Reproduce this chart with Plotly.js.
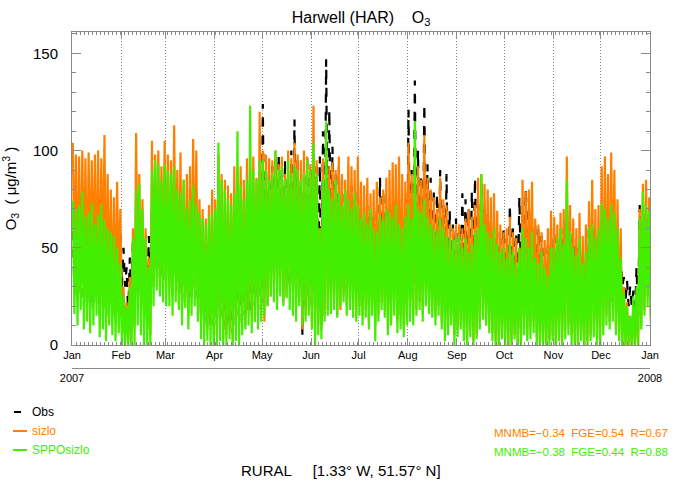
<!DOCTYPE html>
<html>
<head>
<meta charset="utf-8">
<script src="https://cdn.plot.ly/plotly-3.0.1.min.js"></script>
<style>html,body{margin:0;padding:0;background:#fff;}#chart{width:675px;height:484px;}</style>
</head>
<body>
<div id="chart"></div>
<script>
// Two-day periods starting 2007-01-01: daily high / low
const monthTicks = ['2007-01-01','2007-02-01','2007-03-01','2007-04-01','2007-05-01','2007-06-01','2007-07-01','2007-08-01','2007-09-01','2007-10-01','2007-11-01','2007-12-01','2008-01-01'];
const monthLabels = ['Jan','Feb','Mar','Apr','May','Jun','Jul','Aug','Sep','Oct','Nov','Dec','Jan'];

const sizloHigh = [
 104,98,97,100,96,99,95,98,100,96,108,88,80,76,84,70,
 30,22,35,60,109,88,75,60,45,105,98,100,92,105,
 98,95,113,90,99,85,88,92,106,100,75,70,65,72,80,
 75,98,88,85,82,78,92,90,92,85,96,90,97,86,120,
 100,98,96,95,100,93,97,88,100,96,104,98,95,100,97,93,
 123,95,60,96,100,92,94,90,97,88,85,97,92,90,97,
 84,82,86,78,80,84,76,80,86,90,94,93,97,88,84,
 104,88,95,92,85,108,86,80,76,70,86,75,72,62,60,62,
 62,60,65,70,66,72,86,88,83,80,76,78,69,62,58,
 60,66,58,55,50,85,79,80,84,65,62,58,54,60,69,
 66,62,68,70,97,72,65,60,68,56,62,74,85,70,72,
 92,97,88,99,90,75,60,30,22,15,18,25,70,83,85,76];
const sizloLow = [
 42,30,26,36,22,32,35,25,22,30,15,22,14,18,24,12,
 5,2,0,10,30,25,20,8,5,30,35,30,28,32,
 30,25,35,20,18,22,15,25,28,20,12,10,8,12,5,
 5,10,3,5,8,2,10,12,15,10,18,14,12,16,20,
 12,20,25,30,28,30,22,25,30,28,20,22,8,15,18,10,
 5,10,8,15,18,20,22,15,18,25,20,24,18,15,20,
 15,18,12,20,10,16,22,18,8,14,20,12,15,10,12,
 20,15,18,22,16,25,20,18,15,20,12,8,10,15,5,8,
 10,5,0,8,2,5,12,15,10,12,6,2,0,5,0,
 0,2,5,0,3,8,5,10,12,4,0,2,0,3,5,
 0,5,2,8,10,5,2,0,3,0,2,5,8,3,0,
 10,15,12,20,8,5,0,0,0,0,0,0,10,18,25,15];
const spposizloHigh = [
 74,70,72,79,66,68,73,62,67,72,64,60,58,56,50,42,
 25,20,30,55,80,83,70,55,40,90,95,93,85,93,
 90,88,92,80,78,85,70,75,82,72,68,65,62,66,68,
 70,104,85,80,75,72,78,110,82,75,85,123,90,85,95,
 95,90,85,88,100,90,92,85,95,88,92,90,85,88,95,90,
 104,88,60,85,115,80,75,85,78,72,80,75,70,78,72,
 65,68,62,70,60,58,66,64,70,68,65,72,62,60,66,
 72,65,115,70,68,75,66,62,60,58,65,60,56,55,54,55,
 56,50,55,48,52,58,60,88,62,58,55,60,52,48,50,
 45,52,48,42,50,60,55,50,58,45,42,48,40,36,50,
 50,55,60,52,85,58,50,46,55,42,48,60,62,55,60,
 73,70,65,72,68,60,45,27,20,15,25,30,65,79,72,69];
const spposizloLow = [
 16,10,18,8,12,6,10,15,4,8,2,10,5,2,6,0,
 0,0,0,0,10,5,0,0,0,20,28,25,22,20,
 20,15,22,18,10,19,8,15,20,12,3,0,2,0,0,
 0,2,0,0,3,0,2,0,5,8,10,6,12,8,12,
 15,20,25,22,18,25,20,24,18,15,12,20,10,12,15,8,
 0,5,3,12,15,16,18,14,20,22,15,18,14,12,15,
 10,14,8,15,2,12,18,14,5,10,15,6,8,4,10,
 12,10,15,18,12,20,16,14,10,15,8,2,5,10,0,4,
 8,2,0,4,0,3,8,13,10,6,2,0,0,3,0,
 0,0,3,0,0,5,2,3,6,0,0,0,0,0,2,
 0,2,0,3,5,0,0,0,2,0,0,2,4,0,0,
 5,10,8,12,5,2,0,0,0,0,0,0,8,15,20,12];
const obsHigh = [
 68,62,66,70,58,60,64,56,58,60,58,54,50,52,56,57,
 50,40,45,55,60,58,52,50,56,70,75,72,70,82,
 78,70,75,65,62,68,58,62,70,60,55,50,50,52,55,
 55,70,62,58,55,52,60,72,65,60,68,80,75,70,85,
 124,90,88,92,96,98,90,95,85,100,116,95,85,90,98,92,
 100,92,97,110,147,121,102,88,92,85,80,78,82,75,80,
 70,65,72,68,66,70,86,80,72,68,70,74,70,65,75,
 121,90,136,100,86,124,93,86,80,78,90,72,88,69,62,65,
 62,78,75,70,79,86,72,84,70,68,65,62,58,55,60,
 55,72,60,58,76,70,80,76,65,62,60,56,50,52,60,
 58,55,52,60,68,62,55,50,48,45,40,65,60,55,50,
 60,65,62,58,55,49,45,35,33,30,28,40,72,70,65,52];
const obsLow = [
 26,22,26,20,22,18,22,26,16,20,14,22,18,30,38,30,
 30,15,25,35,30,28,20,22,37,40,40,35,32,45,
 35,30,35,28,22,28,20,25,30,22,15,12,12,10,10,
 10,12,8,8,10,6,10,10,15,15,18,15,20,18,22,
 30,35,40,38,35,40,35,40,30,30,25,28,5,20,25,18,
 20,25,10,40,45,40,35,30,32,30,28,30,28,25,30,
 30,32,28,35,25,30,38,34,25,28,30,26,28,22,25,
 35,30,38,40,32,42,38,30,28,30,25,20,25,22,18,20,
 30,35,32,30,35,40,30,38,28,26,25,22,20,18,22,
 20,30,25,22,35,28,30,32,25,21,22,20,18,15,20,
 30,25,22,28,30,35,40,30,25,33,20,21,25,22,20,
 25,28,25,22,30,31,30,22,20,20,15,15,30,35,40,34];

const DAY = 86400000;
const T0 = Date.UTC(2007,0,1);
function fmt(ms){ return new Date(ms).toISOString().slice(0,19).replace('T',' '); }
function zigzag(hi, lo){
  const x=[], y=[];
  for(let i=0;i<hi.length;i++){
    x.push(fmt(T0 + (2*i+0.5)*DAY)); y.push(hi[i]);
    x.push(fmt(T0 + (2*i+1.5)*DAY)); y.push(lo[i]);
  }
  return {x, y};
}
const obsZ = zigzag(obsHigh, obsLow);
const sizZ = zigzag(sizloHigh, sizloLow);
const sppZ = zigzag(spposizloHigh, spposizloLow);

const ORANGE = '#ff8000', GREEN = '#44ee00';
const traces = [
  {x: obsZ.x, y: obsZ.y, type:'scatter', mode:'lines', name:'Obs',
   line:{color:'#000', width:2.2, dash:'dash'}, hoverinfo:'skip'},
  {x: sizZ.x, y: sizZ.y, type:'scatter', mode:'lines', name:'sizlo',
   line:{color:ORANGE, width:2.2}, hoverinfo:'skip'},
  {x: sppZ.x, y: sppZ.y, type:'scatter', mode:'lines', name:'SPPOsizlo',
   line:{color:GREEN, width:2.2}, hoverinfo:'skip'},
  {x:['2007-06-01'], y:[null], xaxis:'x2', type:'scatter', mode:'lines', showlegend:false, hoverinfo:'skip'}
];

// layout geometry (pixels)
const L=72, R=25, T=32, B=116, W=675, H=484;
const PW = W-L-R, PH = H-T-B;
function px(x){ return (x-L)/PW; }
function py(y){ return (H-B-y)/PH; }

const FONT = 'Liberation Sans, Arial, sans-serif';
const AXC = '#8a8a8a';
const layout = {
  width:W, height:H,
  margin:{l:L, r:R, t:T, b:B, pad:0},
  paper_bgcolor:'#fff', plot_bgcolor:'#fff',
  showlegend:false,
  font:{family:FONT, color:'#000'},
  title:{text:'Harwell (HAR)\u00A0\u00A0\u00A0\u00A0O<sub>3</sub>', font:{size:16, family:FONT, color:'#000'},
         x:0.535, xanchor:'center', y:1-17/H, yanchor:'middle', yref:'container'},
  xaxis:{type:'date', range:['2007-01-01','2008-01-01'], anchor:'y',
         tickvals:monthTicks, ticktext:monthLabels, tickfont:{size:11, family:FONT, color:'#000'},
         ticks:'inside', ticklen:6, tickcolor:AXC, showline:true, linecolor:AXC, linewidth:1,
         mirror:'ticks', showgrid:true, gridcolor:'#888', griddash:'1px,2px', gridwidth:1, zeroline:false,
         minor:{dtick:2.5*DAY, ticks:'inside', ticklen:3, tickcolor:AXC, showgrid:false}},
  yaxis:{range:[0,161], domain:[23/PH,1], tickvals:[0,50,100,150], tickfont:{size:15, family:FONT, color:'#000'},
         ticks:'inside', ticklen:9, tickcolor:AXC, showline:true, linecolor:AXC, linewidth:1,
         mirror:'ticks', showgrid:false, zeroline:false, ticklabelstandoff:10,
         minor:{dtick:10, ticks:'inside', ticklen:4, tickcolor:AXC, showgrid:false},
         title:{text:'O<sub>3</sub>\u00A0\u00A0(\u00A0\u03BCg/m<sup>3</sup>\u00A0)', font:{size:15, family:FONT, color:'#000'}, standoff:14}},
  xaxis2:{type:'date', range:['2007-01-01','2008-01-01'], overlaying:'x', anchor:'free', position:0,
          tickvals:['2007-01-01','2008-01-01'], ticktext:['2007','2008'], tickfont:{size:11, family:FONT, color:'#000'},
          ticks:'inside', ticklen:6, tickcolor:AXC, showline:true, linecolor:AXC, linewidth:1,
          showgrid:false, zeroline:false},
  shapes:[
    {type:'line', xref:'paper', yref:'paper', x0:px(14), x1:px(21), y0:py(412), y1:py(412), line:{color:'#000', width:2}},
    {type:'line', xref:'paper', yref:'paper', x0:px(13), x1:px(27), y0:py(431), y1:py(431), line:{color:ORANGE, width:2}},
    {type:'line', xref:'paper', yref:'paper', x0:px(13), x1:px(27), y0:py(450), y1:py(450), line:{color:GREEN, width:2}}
  ],
  annotations:[
    {xref:'paper', yref:'paper', x:px(30), y:py(412), xanchor:'left', yanchor:'middle', showarrow:false,
     text:'Obs', font:{size:12, family:FONT, color:'#000'}},
    {xref:'paper', yref:'paper', x:px(30), y:py(431), xanchor:'left', yanchor:'middle', showarrow:false,
     text:'sizlo', font:{size:12, family:FONT, color:ORANGE}},
    {xref:'paper', yref:'paper', x:px(30), y:py(450), xanchor:'left', yanchor:'middle', showarrow:false,
     text:'SPPOsizlo', font:{size:12, family:FONT, color:GREEN}},
    {xref:'paper', yref:'paper', x:px(670), y:py(433), xanchor:'right', yanchor:'middle', showarrow:false,
     text:'MNMB=\u22120.34\u00A0\u00A0FGE=0.54\u00A0\u00A0R=0.67', font:{size:11.5, family:FONT, color:ORANGE}},
    {xref:'paper', yref:'paper', x:px(670), y:py(452), xanchor:'right', yanchor:'middle', showarrow:false,
     text:'MNMB=\u22120.38\u00A0\u00A0FGE=0.44\u00A0\u00A0R=0.88', font:{size:11.5, family:FONT, color:GREEN}},
    {xref:'paper', yref:'paper', x:px(341), y:py(470), xanchor:'center', yanchor:'middle', showarrow:false,
     text:'RURAL\u00A0\u00A0\u00A0\u00A0\u00A0[1.33\u00B0 W, 51.57\u00B0 N]', font:{size:15, family:FONT, color:'#000'}}
  ]
};
Plotly.newPlot('chart', traces, layout, {staticPlot:true, displayModeBar:false});
</script>
</body>
</html>
